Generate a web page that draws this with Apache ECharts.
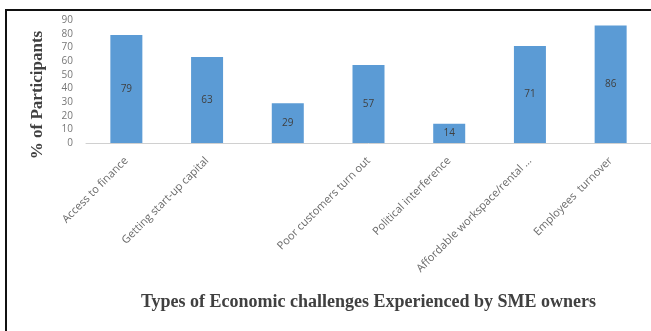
<!DOCTYPE html>
<html><head><meta charset="utf-8">
<script src="https://cdn.jsdelivr.net/npm/echarts@6/dist/echarts.min.js"></script>
<style>html,body{margin:0;padding:0;background:#fff}#c{width:651px;height:331px}</style>
</head><body><div id="c"></div>
<script>
const categoryLabels = ["Access to finance", "Getting start-up capital", "", "Poor customers turn out", "Political interference", "Affordable workspace/rental ...", "Employees  turnover"];
const values = [79, 63, 29, 57, 14, 71, 86];
const yTitle = '% of Participants';
const xTitle = 'Types of Economic challenges Experienced by SME owners';

const chart = echarts.init(document.getElementById('c'));
chart.setOption({
  animation: false,
  graphic: [
    {type: 'rect', shape: {x: 5, y: 9, width: 2, height: 330}, style: {fill: '#111'}},
    {type: 'rect', shape: {x: 5, y: 9, width: 660, height: 2}, style: {fill: '#111'}},
    {type: 'text', x: 38, y: 95, rotation: Math.PI / 2,
      style: {text: yTitle, fontFamily: 'Liberation Serif', fontWeight: 'bold', fontSize: 17, fill: '#404040', align: 'center', verticalAlign: 'middle'}}
  ],
  grid: {left: 86, top: 20, width: 568, height: 123, containLabel: false},
  xAxis: {
    type: 'category',
    data: categoryLabels,
    axisLine: {lineStyle: {color: '#d0d0d0'}},
    axisTick: {show: false},
    axisLabel: {rotate: 45, color: '#6a6a6a', fontSize: 11, fontFamily: 'Open Sans', margin: 16, interval: 0},
    name: xTitle,
    nameLocation: 'middle',
    nameGap: 150,
    nameTextStyle: {fontFamily: 'Liberation Serif', fontWeight: 'bold', fontSize: 18, color: '#404040'}
  },
  yAxis: {
    type: 'value', min: 0, max: 90, interval: 10,
    splitLine: {show: false},
    axisLine: {show: false}, axisTick: {show: false},
    axisLabel: {color: '#777', fontSize: 10, fontFamily: 'Open Sans', margin: 13}
  },
  series: [{
    type: 'bar',
    data: values,
    barWidth: 32,
    itemStyle: {color: '#5b9bd5'},
    label: {show: true, position: 'inside', color: '#404040', fontSize: 10, fontFamily: 'Open Sans'}
  }]
});
</script></body></html>
